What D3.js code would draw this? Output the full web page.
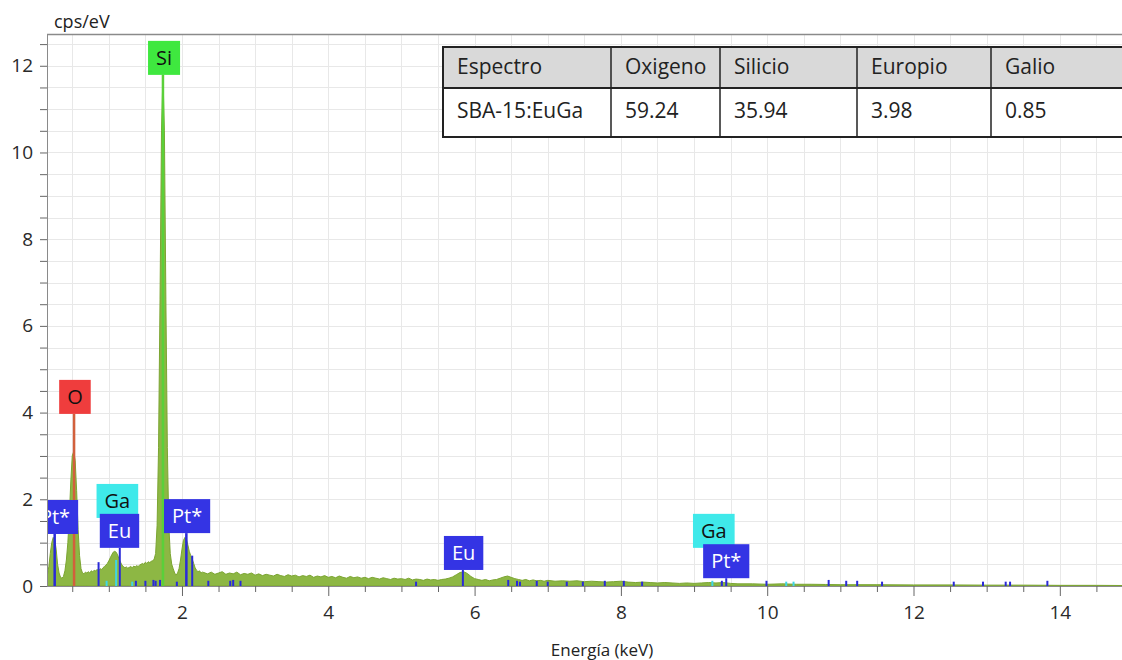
<!DOCTYPE html>
<html><head><meta charset="utf-8">
<script src="https://cdn.jsdelivr.net/npm/d3@7"></script>
<style>
html,body{margin:0;padding:0;background:#fff;}
svg{display:block;}
text{font-family:"Open Sans","Noto Sans",sans-serif;}
</style></head>
<body><svg id="chart" width="1122" height="660"></svg>
<script>
// ---- data ----
const energy = [0.16,0.18,0.20,0.22,0.24,0.26,0.28,0.30,0.32,0.34,0.36,0.38,0.40,0.42,0.44,0.46,0.48,0.50,0.52,0.54,0.56,0.58,0.60,0.62,0.64,0.66,0.68,0.70,0.72,0.74,0.76,0.78,0.80,0.82,0.84,0.86,0.88,0.90,0.92,0.94,0.96,0.98,1.00,1.02,1.04,1.06,1.08,1.10,1.12,1.14,1.16,1.18,1.20,1.22,1.24,1.26,1.28,1.30,1.32,1.34,1.36,1.38,1.40,1.42,1.44,1.46,1.48,1.50,1.52,1.54,1.56,1.58,1.60,1.62,1.64,1.66,1.68,1.70,1.72,1.74,1.76,1.78,1.80,1.82,1.84,1.86,1.88,1.90,1.92,1.94,1.96,1.98,2.00,2.02,2.04,2.06,2.08,2.10,2.12,2.14,2.16,2.18,2.20,2.22,2.24,2.26,2.28,
2.30,2.35,2.40,2.45,2.50,2.55,2.60,2.65,2.70,2.75,2.80,2.85,2.90,2.95,3.00,3.05,3.10,3.15,3.20,3.25,3.30,3.35,3.40,3.45,3.50,3.55,3.60,3.65,3.70,3.75,3.80,3.85,3.90,3.95,4.00,4.05,4.10,4.15,4.20,4.25,4.30,4.35,4.40,4.45,4.50,4.55,4.60,4.65,4.70,4.75,4.80,4.85,4.90,4.95,5.00,5.05,5.10,5.15,5.20,5.25,5.30,5.35,5.40,5.45,5.50,5.55,5.60,5.65,5.70,5.75,5.80,5.85,5.90,5.95,6.00,6.05,6.10,6.15,6.20,6.25,6.30,6.35,6.40,6.45,6.50,6.55,6.60,6.65,6.70,6.75,6.80,6.85,6.90,6.95,7.00,
7.1,7.2,7.3,7.4,7.5,7.6,7.7,7.8,7.9,8.0,8.1,8.2,8.3,8.4,8.5,8.6,8.7,8.8,8.9,9.0,9.1,9.2,9.3,9.4,9.5,9.6,9.8,10.0,10.2,10.4,10.6,10.8,11.0,11.5,12.0,12.5,13.0,13.5,14.0,14.5,15.0];
const counts = [0.25,0.45,0.75,1.0,1.12,1.08,0.85,0.5,0.3,0.2,0.18,0.22,0.35,0.6,1.0,1.6,2.4,3.0,3.1,2.9,2.2,1.3,0.7,0.4,0.3,0.28,0.32,0.3,0.33,0.3,0.35,0.33,0.36,0.35,0.38,0.36,0.4,0.38,0.42,0.45,0.48,0.52,0.58,0.65,0.72,0.78,0.8,0.78,0.72,0.62,0.55,0.48,0.45,0.42,0.44,0.41,0.43,0.45,0.42,0.46,0.44,0.47,0.45,0.48,0.5,0.52,0.5,0.55,0.52,0.56,0.54,0.57,0.58,0.62,0.75,1.4,3.2,6.6,10.5,11.8,10.5,6.6,3.2,1.4,0.75,0.5,0.4,0.3,0.25,0.3,0.4,0.6,0.85,1.05,1.12,1.08,0.95,0.8,0.7,0.62,0.52,0.42,0.36,0.33,0.35,0.3,0.32,
0.31,0.28,0.32,0.27,0.3,0.33,0.27,0.3,0.28,0.32,0.26,0.29,0.27,0.3,0.25,0.28,0.24,0.27,0.25,0.23,0.27,0.24,0.22,0.26,0.23,0.25,0.21,0.24,0.22,0.25,0.2,0.23,0.21,0.24,0.2,0.22,0.19,0.23,0.2,0.18,0.22,0.19,0.21,0.18,0.2,0.17,0.2,0.18,0.16,0.19,0.17,0.15,0.18,0.16,0.17,0.15,0.18,0.14,0.16,0.15,0.13,0.16,0.14,0.15,0.13,0.15,0.16,0.18,0.21,0.26,0.31,0.33,0.29,0.22,0.17,0.15,0.13,0.15,0.12,0.14,0.15,0.18,0.21,0.23,0.2,0.17,0.15,0.13,0.15,0.12,0.14,0.12,0.13,0.11,0.13,
0.11,0.12,0.11,0.12,0.1,0.11,0.1,0.09,0.1,0.11,0.09,0.08,0.09,0.08,0.07,0.08,0.07,0.06,0.07,0.06,0.07,0.08,0.07,0.08,0.06,0.05,0.05,0.04,0.05,0.04,0.04,0.035,0.03,0.03,0.025,0.025,0.02,0.02,0.015,0.015,0.01];

// element marker lines
const markerEnergy  = [0.26,0.525,0.86,0.97,1.10,1.15,1.32,1.37,1.50,1.61,1.64,1.70,1.74,1.93,2.06,2.14,2.36,2.66,2.70,2.80,5.20,5.84,6.46,6.58,6.62,6.85,7.00,7.26,7.48,7.78,8.04,8.29,9.25,9.38,9.44,9.99,10.26,10.36,10.84,11.08,11.23,11.57,12.55,12.95,13.26,13.32,13.83];
const markerHeight  = [1.2,3.97,0.55,0.12,0.6,0.88,0.1,0.12,0.12,0.14,0.12,0.14,11.79,0.1,1.22,0.7,0.12,0.12,0.14,0.12,0.1,0.37,0.14,0.12,0.1,0.12,0.1,0.1,0.1,0.12,0.12,0.1,0.12,0.12,0.18,0.12,0.1,0.1,0.14,0.12,0.12,0.1,0.1,0.1,0.1,0.1,0.12];
const markerElement = ["Pt","O","Eu","Ga","Ga","Eu","Ga","Eu","Pt","Eu","Pt","Pt","Si","Pt","Pt","Pt","Eu","Pt","Eu","Pt","Eu","Eu","Eu","Eu","Pt","Eu","Eu","Pt","Eu","Pt","Eu","Pt","Ga","Pt","Pt","Eu","Ga","Ga","Pt","Pt","Pt","Pt","Pt","Pt","Pt","Pt","Pt"];

// peak labels
const labelText    = ["Si","O","Pt*","Ga","Eu","Pt*","Eu","Ga","Pt*"];
const labelElement = ["Si","O","Pt","Ga","Eu","Pt","Eu","Ga","Pt"];
const labelEnergy  = [1.755,0.537,0.265,1.117,1.146,2.07,5.85,9.27,9.44];
const labelValue   = [11.79,3.97,1.2,1.57,0.88,1.22,0.37,0.88,0.18];

// axis ticks
const xTickLabels = [2,4,6,8,10,12,14];
const yTickLabels = [0,2,4,6,8,10,12];

// table
const tableHeader = ["Espectro","Oxigeno","Silicio","Europio","Galio"];
const tableRow    = ["SBA-15:EuGa","59.24","35.94","3.98","0.85"];

// ---- styles ----
const elemColor = {Si:"#3fe83f", O:"#ef3d3d", Ga:"#3fe9ea", Eu:"#3434e4", Pt:"#3434e4"};
const lineColor = {Si:"#5ad03a", O:"#d2603c", Ga:"#3fd6e6", Eu:"#2a2ad8", Pt:"#2a2ad8"};
const textColor = {Si:"#111", O:"#111", Ga:"#111", Eu:"#fff", Pt:"#fff"};

const svg = d3.select("#chart");
const L = 47, R = 1122, T = 35, B = 586;
const x = d3.scaleLinear().domain([0.155, 14.85]).range([L, R]);
const y = d3.scaleLinear().domain([0, 12.71]).range([B, T]);

svg.append("defs").append("clipPath").attr("id","clip")
  .append("rect").attr("x",L).attr("y",T).attr("width",R-L).attr("height",B-T);

// grid
const gx = d3.range(0.5, 15, 0.5), gy = d3.range(0.5, 12.75, 0.5);
const grid = svg.append("g").attr("stroke","#e8e8e8").attr("stroke-width",1);
grid.selectAll("line.v").data(gx).join("line").attr("class","v")
  .attr("x1",d=>Math.round(x(d))+0.5).attr("x2",d=>Math.round(x(d))+0.5).attr("y1",T).attr("y2",B);
grid.selectAll("line.h").data(gy).join("line").attr("class","h")
  .attr("y1",d=>Math.round(y(d))+0.5).attr("y2",d=>Math.round(y(d))+0.5).attr("x1",L).attr("x2",R);

const plot = svg.append("g").attr("clip-path","url(#clip)");

// spectrum
const spec = energy.map((e,i)=>({e, v:counts[i]}));
plot.append("path").datum(spec)
  .attr("fill","#8db744").attr("stroke","#7ba531").attr("stroke-width",1)
  .attr("d", d3.area().x(d=>x(d.e)).y0(y(0)).y1(d=>y(d.v)));

// markers
const markers = markerEnergy.map((e,i)=>({e, h:markerHeight[i], el:markerElement[i]}));
plot.selectAll("line.mk").data(markers).join("line").attr("class","mk")
  .attr("x1",d=>x(d.e)).attr("x2",d=>x(d.e)).attr("y1",y(0)).attr("y2",d=>y(d.h))
  .attr("stroke",d=>lineColor[d.el]).attr("stroke-width",d=>d.h>1?2.5:2);

// labels
labelText.forEach((t,i)=>{
  const el = labelElement[i];
  const g = plot.append("g");
  const txt = g.append("text").text(t).attr("font-size",20)
     .attr("fill",textColor[el]).attr("text-anchor","middle")
     .attr("x",x(labelEnergy[i])).attr("y",y(labelValue[i])-10);
  const w = txt.node().getComputedTextLength() + 16;
  g.insert("rect","text").attr("x",x(labelEnergy[i])-w/2).attr("y",y(labelValue[i])-34)
    .attr("width",w).attr("height",34).attr("fill",elemColor[el]);
});

// axes
const yAxis = d3.axisLeft(y).tickValues(d3.range(0,12.75,0.5)).tickSize(7).tickPadding(7)
  .tickFormat(d=>yTickLabels.includes(d)?d:"");
const ya = svg.append("g").attr("transform",`translate(${L},0)`).call(yAxis);
const xAxis = d3.axisBottom(x).tickValues(d3.range(0.5,15,0.5)).tickSize(6).tickPadding(14)
  .tickFormat(d=>xTickLabels.includes(d)?d:"");
const xa = svg.append("g").attr("transform",`translate(0,${B})`).call(xAxis);
xa.selectAll(".tick line").attr("y2",d=>xTickLabels.includes(d)?10:6);
[ya,xa].forEach(a=>{
  a.select(".domain").attr("stroke","#8a8a8a");
  a.selectAll(".tick line").attr("stroke","#666");
  a.selectAll(".tick text").attr("font-size",19).attr("fill","#2a2a2a")
   .attr("font-family","'Open Sans',sans-serif");
});
xa.select(".domain").attr("d",`M${L},0.5H${R}`);
ya.select(".domain").attr("d",`M0.5,${T}V${B}`);
// top border
svg.append("line").attr("x1",L).attr("x2",R).attr("y1",T-0.5).attr("y2",T-0.5)
  .attr("stroke","#8a8a8a").attr("stroke-width",1.5);

// axis titles
svg.append("text").text("cps/eV").attr("x",54).attr("y",28).attr("font-size",18).attr("fill","#222");
svg.append("text").text("Energía (keV)").attr("x",602).attr("y",656).attr("font-size",17)
  .attr("fill","#222").attr("text-anchor","middle");

// table
const colX = [443,611,720,857,991,1126];
const tb = svg.append("g");
tb.append("rect").attr("x",colX[0]).attr("y",47).attr("width",colX[5]-colX[0]).attr("height",41).attr("fill","#d9d9d9");
tb.append("rect").attr("x",colX[0]).attr("y",88).attr("width",colX[5]-colX[0]).attr("height",49).attr("fill","#fff");
tb.append("rect").attr("x",colX[0]).attr("y",47).attr("width",colX[5]-colX[0]).attr("height",90)
  .attr("fill","none").attr("stroke","#222").attr("stroke-width",2);
tb.append("line").attr("x1",colX[0]).attr("x2",colX[5]).attr("y1",88).attr("y2",88).attr("stroke","#222").attr("stroke-width",2);
tb.selectAll("line.c").data(colX.slice(1,5)).join("line").attr("class","c")
  .attr("x1",d=>d).attr("x2",d=>d).attr("y1",47).attr("y2",137).attr("stroke","#222").attr("stroke-width",1.5);
tableHeader.forEach((t,i)=>{
  tb.append("text").text(t).attr("x",colX[i]+14).attr("y",74).attr("font-size",21).attr("fill","#222");
  tb.append("text").text(tableRow[i]).attr("x",colX[i]+14).attr("y",118).attr("font-size",21).attr("fill","#222");
});
</script></body></html>
